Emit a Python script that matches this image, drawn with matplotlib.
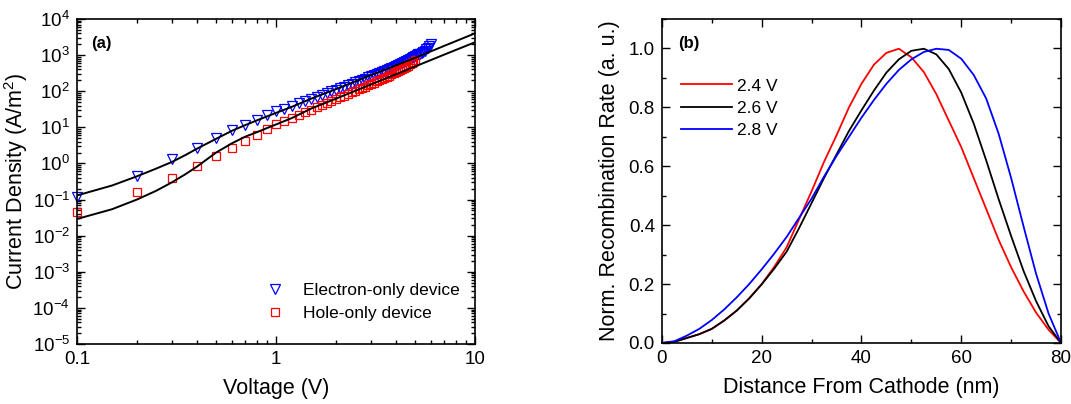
import numpy as np
import matplotlib
matplotlib.use("Agg")
import matplotlib.pyplot as plt
from matplotlib.ticker import LogLocator, MultipleLocator, NullFormatter

plt.rcParams['font.family'] = ['Liberation Sans', 'DejaVu Sans']
plt.rcParams['mathtext.default'] = 'regular'
plt.rcParams['axes.unicode_minus'] = False

# (a) J-V data
v_e = [0.1, 0.2, 0.3, 0.4, 0.5, 0.6, 0.7, 0.8, 0.9, 1.0, 1.1, 1.2, 1.3, 1.4, 1.5,
       1.6, 1.7, 1.8, 1.9, 2.0, 2.1, 2.2, 2.3, 2.4, 2.5, 2.6, 2.7, 2.8, 2.9, 3.0,
       3.1, 3.2, 3.3, 3.4, 3.5, 3.6, 3.7, 3.8, 3.9, 4.0, 4.1, 4.2, 4.3, 4.4, 4.5,
       4.6, 4.7, 4.8, 4.9, 5.0, 5.1, 5.2, 5.3, 5.4, 5.5, 5.6, 5.7, 5.8, 5.9, 6.0]
j_e = [0.115, 0.45, 1.3, 2.7, 5.0, 8.2, 11.5, 16, 22, 28, 33, 39, 46, 53, 61,
       70, 79, 89, 99, 110, 122, 134, 147, 161, 176, 191, 207, 224, 242, 261,
       281, 302, 324, 347, 371, 397, 424, 452, 482, 513, 546, 580, 616, 654, 694,
       736, 780, 826, 874, 925, 980, 1040, 1100, 1170, 1250, 1340, 1450, 1600, 1800, 2050]
v_h = [0.1, 0.2, 0.3, 0.4, 0.5, 0.6, 0.7, 0.8, 0.9, 1.0, 1.1, 1.2, 1.3, 1.4, 1.5,
       1.6, 1.7, 1.8, 1.9, 2.0, 2.1, 2.2, 2.3, 2.4, 2.5, 2.6, 2.7, 2.8, 2.9, 3.0,
       3.1, 3.2, 3.3, 3.4, 3.5, 3.6, 3.7, 3.8, 3.9, 4.0, 4.1, 4.2, 4.3, 4.4, 4.5,
       4.6, 4.7, 4.8, 4.9, 5.0]
j_h = [0.046, 0.16, 0.40, 0.87, 1.6, 2.7, 4.3, 6.1, 8.8, 12, 15, 18.5, 22, 26.5, 31,
       36, 41.5, 47.5, 54, 61, 68, 76, 84, 93, 102, 112, 123, 134, 146, 159,
       172, 186, 201, 217, 234, 252, 271, 291, 312, 334, 357, 382, 408, 436, 480,
       515, 555, 600, 650, 720]

# fitted curves
v_fit = [0.1, 0.15, 0.2, 0.25, 0.3, 0.35, 0.4, 0.5, 0.6, 0.7, 0.8, 0.9, 1.2, 1.5,
         2, 3, 5, 7, 10]
j_fit_e = [0.13, 0.245, 0.44, 0.72, 1.1, 1.7, 2.55, 4.8, 8.0, 11.5, 15.5, 20, 37, 62,
           114, 280, 840, 1800, 4000]
j_fit_h = [0.029, 0.054, 0.1, 0.175, 0.3, 0.5, 0.81, 2.0, 3.6, 5.5, 7.3, 9.5, 18, 33,
           62, 154, 484, 1030, 2270]

# (b) recombination profiles
dist = [0, 2.5, 5, 7.5, 10, 12.5, 15, 17.5, 20, 22.5, 25, 27.5, 30, 32.5, 35, 37.5,
        40, 42.5, 45, 47.5, 50, 52.5, 55, 57.5, 60, 62.5, 65, 67.5, 70, 72.5, 75, 77.5, 80]
r_24 = [0, 0.004, 0.017, 0.03, 0.048, 0.077, 0.11, 0.152, 0.2, 0.258, 0.325, 0.42,
        0.515, 0.615, 0.705, 0.80, 0.88, 0.945, 0.985, 0.999, 0.97, 0.92, 0.845, 0.755,
        0.665, 0.56, 0.455, 0.35, 0.257, 0.175, 0.103, 0.045, 0]
r_26 = [0, 0.004, 0.017, 0.03, 0.048, 0.076, 0.11, 0.151, 0.199, 0.252, 0.31, 0.39,
        0.475, 0.56, 0.64, 0.72, 0.79, 0.857, 0.918, 0.963, 0.992, 0.999, 0.98, 0.93,
        0.85, 0.745, 0.62, 0.488, 0.363, 0.244, 0.142, 0.057, 0]
r_28 = [0, 0.006, 0.025, 0.048, 0.078, 0.114, 0.155, 0.2, 0.25, 0.303, 0.36, 0.425,
        0.49, 0.565, 0.635, 0.70, 0.765, 0.825, 0.88, 0.927, 0.963, 0.988, 0.999, 0.995,
        0.965, 0.91, 0.83, 0.71, 0.56, 0.395, 0.235, 0.1, 0]

fig = plt.figure(figsize=(10.71, 4.04), dpi=100)
ax1 = fig.add_axes([0.0719, 0.1485, 0.3716, 0.8045])
ax2 = fig.add_axes([0.618, 0.151, 0.3727, 0.802])

# ---- panel (a)
ax1.plot(v_fit, j_fit_e, color='black', lw=1.4, zorder=3)
ax1.plot(v_fit, j_fit_h, color='black', lw=1.4, zorder=3)
ax1.plot(v_e, j_e, 'v', mfc='none', mec='#0000ff', ms=6.5, mew=0.9,
         label='Electron-only device', clip_on=False)
ax1.plot(v_h, j_h, 's', mfc='none', mec='#ff0000', ms=5.5, mew=0.9,
         label='Hole-only device', clip_on=False)
ax1.set_xscale('log')
ax1.set_yscale('log')
ax1.set_xlim(0.1, 10)
ax1.set_ylim(1e-5, 1e4)
ax1.yaxis.set_major_locator(LogLocator(base=10, numticks=20))
ax1.yaxis.set_minor_locator(LogLocator(base=10, subs=np.arange(2, 10), numticks=20))
ax1.yaxis.set_minor_formatter(NullFormatter())
ax1.set_xticks([0.1, 1, 10])
ax1.set_xticklabels(['0.1', '1', '10'])
ax1.set_xlabel('Voltage (V)', fontsize=15.5, labelpad=7)
ax1.set_ylabel('Current Density (A/m$^2$)', fontsize=15.5, labelpad=2)
ax1.text(0.035, 0.925, '(a)', transform=ax1.transAxes, fontsize=12,
         fontweight='bold', va='center')
ax1.legend(loc='upper left', bbox_to_anchor=(0.415, 0.235), frameon=False,
           fontsize=12.5, handletextpad=0.6, labelspacing=0.45, numpoints=1)

# ---- panel (b)
ax2.plot(dist, r_24, color='#ff0000', lw=1.3, label='2.4 V')
ax2.plot(dist, r_26, color='black', lw=1.3, label='2.6 V')
ax2.plot(dist, r_28, color='#0000ff', lw=1.3, label='2.8 V')
ax2.set_xlim(0, 80)
ax2.set_ylim(0, 1.1)
ax2.xaxis.set_major_locator(MultipleLocator(20))
ax2.xaxis.set_minor_locator(MultipleLocator(10))
ax2.yaxis.set_minor_locator(MultipleLocator(0.1))
ax2.set_yticks([0, 0.2, 0.4, 0.6, 0.8, 1.0])
ax2.set_yticklabels(['0.0', '0.2', '0.4', '0.6', '0.8', '1.0'])
ax2.set_xlabel('Distance From Cathode (nm)', fontsize=15.5, labelpad=7)
ax2.set_ylabel('Norm. Recombination Rate (a. u.)', fontsize=15.5, labelpad=6)
ax2.text(0.04, 0.925, '(b)', transform=ax2.transAxes, fontsize=12,
         fontweight='bold', va='center')
ax2.legend(loc='upper left', bbox_to_anchor=(0.01, 0.865), frameon=False,
           fontsize=12.5, handlelength=2.9, handletextpad=0.3, labelspacing=0.42)

for ax in (ax1, ax2):
    ax.tick_params(which='both', direction='in', top=True, right=True,
                   labelsize=13.5, width=1.0)
    ax.tick_params(which='major', length=6, pad=5)
    ax.tick_params(which='minor', length=3)
    for s in ax.spines.values():
        s.set_linewidth(1.2)

fig.savefig('out.png', dpi=100)
